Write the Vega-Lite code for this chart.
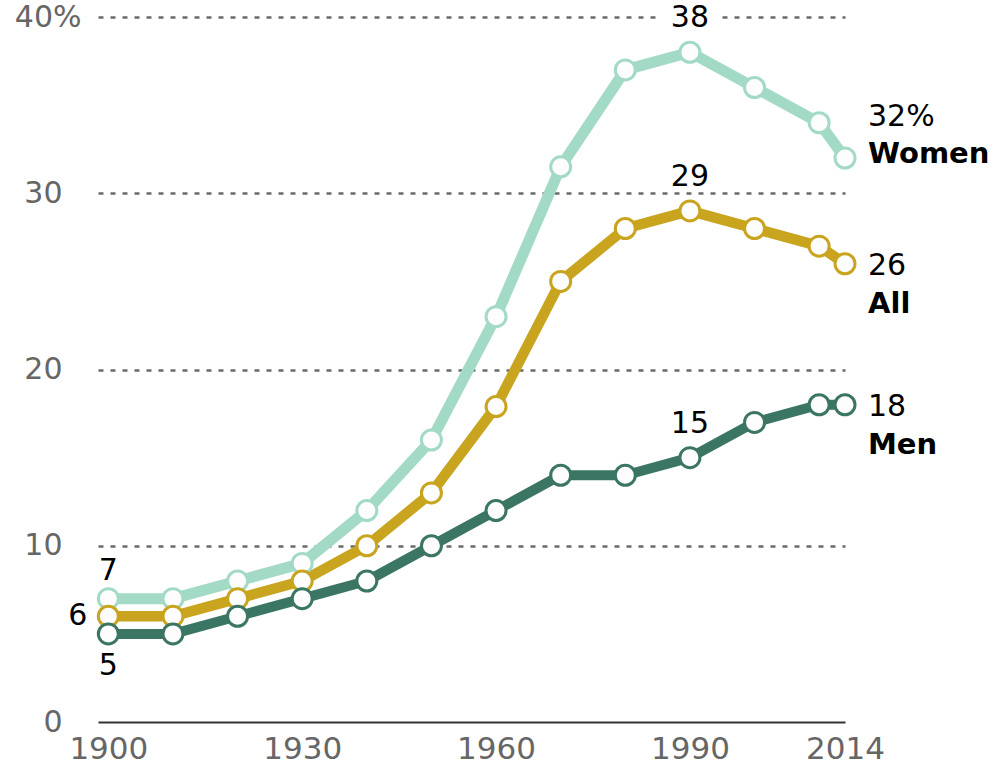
{
  "$schema": "https://vega.github.io/schema/vega-lite/v6.json",
  "width": 747,
  "height": 705,
  "autosize": "none",
  "padding": {"left": 98, "top": 17, "right": 155, "bottom": 54},
  "config": {"view": {"stroke": null}, "font": "DejaVu Sans"},
  "datasets": {
    "series": [
      {"year": 1900, "group": "Women", "value": 7},
      {"year": 1910, "group": "Women", "value": 7},
      {"year": 1920, "group": "Women", "value": 8},
      {"year": 1930, "group": "Women", "value": 9},
      {"year": 1940, "group": "Women", "value": 12},
      {"year": 1950, "group": "Women", "value": 16},
      {"year": 1960, "group": "Women", "value": 23},
      {"year": 1970, "group": "Women", "value": 31.5},
      {"year": 1980, "group": "Women", "value": 37},
      {"year": 1990, "group": "Women", "value": 38},
      {"year": 2000, "group": "Women", "value": 36},
      {"year": 2010, "group": "Women", "value": 34},
      {"year": 2014, "group": "Women", "value": 32},
      {"year": 1900, "group": "All", "value": 6},
      {"year": 1910, "group": "All", "value": 6},
      {"year": 1920, "group": "All", "value": 7},
      {"year": 1930, "group": "All", "value": 8},
      {"year": 1940, "group": "All", "value": 10},
      {"year": 1950, "group": "All", "value": 13},
      {"year": 1960, "group": "All", "value": 17.9},
      {"year": 1970, "group": "All", "value": 25},
      {"year": 1980, "group": "All", "value": 28},
      {"year": 1990, "group": "All", "value": 29},
      {"year": 2000, "group": "All", "value": 28},
      {"year": 2010, "group": "All", "value": 27},
      {"year": 2014, "group": "All", "value": 26},
      {"year": 1900, "group": "Men", "value": 5},
      {"year": 1910, "group": "Men", "value": 5},
      {"year": 1920, "group": "Men", "value": 6},
      {"year": 1930, "group": "Men", "value": 7},
      {"year": 1940, "group": "Men", "value": 8},
      {"year": 1950, "group": "Men", "value": 10},
      {"year": 1960, "group": "Men", "value": 12},
      {"year": 1970, "group": "Men", "value": 14},
      {"year": 1980, "group": "Men", "value": 14},
      {"year": 1990, "group": "Men", "value": 15},
      {"year": 2000, "group": "Men", "value": 17},
      {"year": 2010, "group": "Men", "value": 18},
      {"year": 2014, "group": "Men", "value": 18}
    ],
    "ends": [
      {"year": 2014, "group": "Women", "value": 32, "num": "32%"},
      {"year": 2014, "group": "All", "value": 26, "num": "26"},
      {"year": 2014, "group": "Men", "value": 18, "num": "18"}
    ],
    "peaks": [
      {"year": 1990, "group": "Women", "value": 38},
      {"year": 1990, "group": "All", "value": 29},
      {"year": 1990, "group": "Men", "value": 15}
    ]
  },
  "encoding": {
    "x": {
      "field": "year",
      "type": "quantitative",
      "scale": {"domain": [1898.4, 2014], "nice": false, "zero": false},
      "axis": {
        "title": null,
        "values": [1900, 1930, 1960, 1990, 2014],
        "format": "d",
        "grid": false,
        "ticks": false,
        "domainColor": "#333333",
        "domainWidth": 2,
        "labelFontSize": 31,
        "labelColor": "#666666",
        "labelPadding": 12,
        "labelFlush": false,
        "labelOverlap": false
      }
    },
    "y": {
      "field": "value",
      "type": "quantitative",
      "scale": {"domain": [0, 40], "nice": false},
      "axis": {
        "title": null,
        "values": [0, 10, 20, 30, 40],
        "grid": true,
        "gridDash": [5, 7],
        "gridColor": "#6a6a6a",
        "gridWidth": 2.5,
        "gridOpacity": {"condition": {"test": "datum.value == 0", "value": 0}, "value": 1},
        "domain": false,
        "ticks": false,
        "labelFontSize": 30,
        "labelColor": "#666666",
        "labelPadding": {"condition": {"test": "datum.value == 40", "value": 17}, "value": 36},
        "labelFlush": false,
        "labelOverlap": false,
        "labelExpr": "datum.value == 40 ? '40%' : datum.label"
      }
    }
  },
  "layer": [
    {
      "data": {"name": "series"},
      "mark": {"type": "line", "strokeCap": "round", "strokeJoin": "round"},
      "encoding": {
        "detail": {"field": "group"},
        "color": {
          "field": "group",
          "type": "nominal",
          "scale": {"domain": ["Women", "All", "Men"], "range": ["#a3dac6", "#c9a41e", "#3b7563"]},
          "legend": null
        },
        "strokeWidth": {
          "field": "group",
          "type": "nominal",
          "scale": {"domain": ["Women", "All", "Men"], "range": [11, 10, 9]},
          "legend": null
        }
      }
    },
    {
      "data": {"name": "series"},
      "mark": {"type": "point", "filled": false, "fill": "#fdfdfd", "fillOpacity": 1, "opacity": 1, "size": 400, "strokeWidth": 3},
      "encoding": {
        "stroke": {
          "field": "group",
          "type": "nominal",
          "scale": {"domain": ["Women", "All", "Men"], "range": ["#a3dac6", "#c9a41e", "#3b7563"]},
          "legend": null
        }
      }
    },
    {
      "data": {"values": [{"year": 1990, "value": 40}]},
      "mark": {"type": "point", "shape": "M-1,-0.5H1V0.5H-1Z", "filled": true, "color": "white", "opacity": 1, "size": 3600}
    },
    {
      "data": {"name": "peaks"},
      "mark": {"type": "text", "fontSize": 30, "color": "#000000", "align": "center", "baseline": "alphabetic", "dy": -25},
      "encoding": {"text": {"field": "value", "type": "quantitative"}}
    },
    {
      "data": {"values": [{"year": 1900, "value": 7}]},
      "mark": {"type": "text", "fontSize": 30, "color": "#000000", "align": "center", "baseline": "alphabetic", "dy": -19},
      "encoding": {"text": {"field": "value", "type": "quantitative"}}
    },
    {
      "data": {"values": [{"year": 1900, "value": 6}]},
      "mark": {"type": "text", "fontSize": 30, "color": "#000000", "align": "right", "baseline": "middle", "dx": -21},
      "encoding": {"text": {"field": "value", "type": "quantitative"}}
    },
    {
      "data": {"values": [{"year": 1900, "value": 5}]},
      "mark": {"type": "text", "fontSize": 30, "color": "#000000", "align": "center", "baseline": "alphabetic", "dy": 41},
      "encoding": {"text": {"field": "value", "type": "quantitative"}}
    },
    {
      "data": {"name": "ends"},
      "transform": [{"filter": "datum.group == 'Women'"}],
      "mark": {"type": "text", "fontSize": 30, "color": "#000000", "align": "left", "baseline": "alphabetic", "dx": 23, "dy": -32},
      "encoding": {"text": {"field": "num"}}
    },
    {
      "data": {"name": "ends"},
      "transform": [{"filter": "datum.group == 'Women'"}],
      "mark": {"type": "text", "fontSize": 29, "fontWeight": "bold", "color": "#000000", "align": "left", "baseline": "alphabetic", "dx": 23, "dy": 5},
      "encoding": {"text": {"field": "group"}}
    },
    {
      "data": {"name": "ends"},
      "transform": [{"filter": "datum.group != 'Women'"}],
      "mark": {"type": "text", "fontSize": 30, "color": "#000000", "align": "left", "baseline": "alphabetic", "dx": 23, "dy": 11},
      "encoding": {"text": {"field": "num"}}
    },
    {
      "data": {"name": "ends"},
      "transform": [{"filter": "datum.group != 'Women'"}],
      "mark": {"type": "text", "fontSize": 29, "fontWeight": "bold", "color": "#000000", "align": "left", "baseline": "alphabetic", "dx": 23, "dy": 49},
      "encoding": {"text": {"field": "group"}}
    }
  ]
}
